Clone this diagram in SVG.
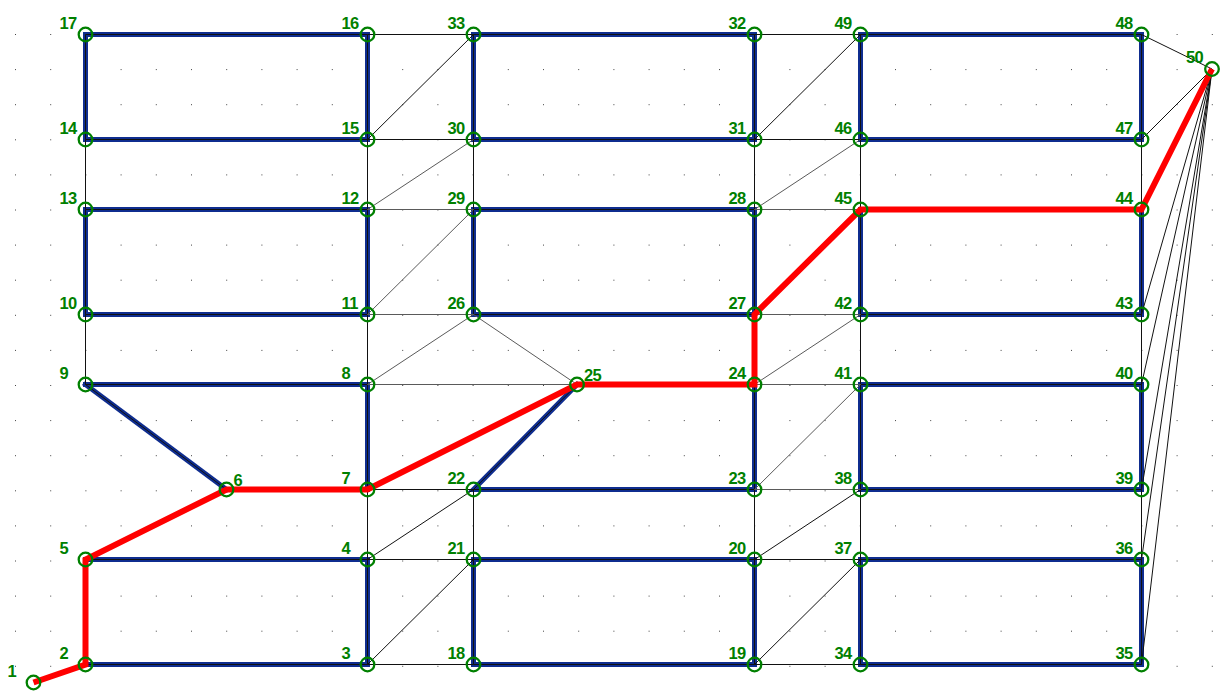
<svg xmlns="http://www.w3.org/2000/svg" width="1225" height="691" viewBox="0 0 1225 691">
<style>
.dots line{stroke:#444;stroke-width:1;stroke-dasharray:1 34.2}
.blue{stroke:#0f2d8f;stroke-width:5;fill:none;stroke-linecap:square}
.thin{stroke:#111;stroke-width:1;fill:none}
.grey{stroke:#5a5a5a;stroke-width:1;fill:none}
.red{stroke:#ff0000;stroke-width:6;fill:none;stroke-linejoin:miter}
.node circle{fill:none;stroke:#008000;stroke-width:2.3}
.node text{fill:#008000;font-family:"Liberation Sans",Arial,sans-serif;font-weight:bold;font-size:16.5px;letter-spacing:-0.6px}
</style>
<rect width="1225" height="691" fill="#fff"/>
<g class="dots">
<line x1="15" y1="34.5" x2="1225" y2="34.5"/>
<line x1="15" y1="69.6" x2="1225" y2="69.6"/>
<line x1="15" y1="104.7" x2="1225" y2="104.7"/>
<line x1="15" y1="139.8" x2="1225" y2="139.8"/>
<line x1="15" y1="174.9" x2="1225" y2="174.9"/>
<line x1="15" y1="210" x2="1225" y2="210"/>
<line x1="15" y1="245.1" x2="1225" y2="245.1"/>
<line x1="15" y1="280.2" x2="1225" y2="280.2"/>
<line x1="15" y1="315.3" x2="1225" y2="315.3"/>
<line x1="15" y1="350.4" x2="1225" y2="350.4"/>
<line x1="15" y1="385.5" x2="1225" y2="385.5"/>
<line x1="15" y1="420.6" x2="1225" y2="420.6"/>
<line x1="15" y1="455.7" x2="1225" y2="455.7"/>
<line x1="15" y1="490.8" x2="1225" y2="490.8"/>
<line x1="15" y1="525.9" x2="1225" y2="525.9"/>
<line x1="15" y1="561" x2="1225" y2="561"/>
<line x1="15" y1="596.1" x2="1225" y2="596.1"/>
<line x1="15" y1="631.2" x2="1225" y2="631.2"/>
<line x1="15" y1="666.3" x2="1225" y2="666.3"/>
</g>
<g id="connectors">
<g class="blue">
<path d="M85.5 34.5H367.5V139.5H85.5Z"/>
<path d="M85.5 209.5H367.5V314.5H85.5Z"/>
<path d="M85.5 384.5H367.5V489.5"/>
<path d="M85.5 384.5L226.5 489.5"/>
<path d="M85.5 559.5H367.5V664.5H85.5"/>
<path d="M473.5 34.5H754.5V139.5H473.5Z"/>
<path d="M473.5 209.5H754.5V314.5H473.5Z"/>
<path d="M577 384.5L473.5 489.5H754.5V384.5"/>
<path d="M473.5 559.5H754.5V664.5H473.5Z"/>
<path d="M860.5 34.5H1141.5V139.5H860.5Z"/>
<path d="M860.5 209.5V314.5H1141.5V209.5"/>
<path d="M860.5 384.5H1141.5V489.5H860.5Z"/>
<path d="M860.5 559.5H1141.5V664.5H860.5Z"/>
</g>
<g class="thin">
<path d="M85.5 34.5H367.5V139.5H85.5Z"/>
<path d="M85.5 209.5H367.5V314.5H85.5Z"/>
<path d="M85.5 384.5H367.5V489.5"/>
<path d="M85.5 384.5L226.5 489.5"/>
<path d="M85.5 559.5H367.5V664.5H85.5"/>
<path d="M473.5 34.5H754.5V139.5H473.5Z"/>
<path d="M473.5 209.5H754.5V314.5H473.5Z"/>
<path d="M577 384.5L473.5 489.5H754.5V384.5"/>
<path d="M473.5 559.5H754.5V664.5H473.5Z"/>
<path d="M860.5 34.5H1141.5V139.5H860.5Z"/>
<path d="M860.5 209.5V314.5H1141.5V209.5"/>
<path d="M860.5 384.5H1141.5V489.5H860.5Z"/>
<path d="M860.5 559.5H1141.5V664.5H860.5Z"/>
<path d="M85.5 139.5V209.5M85.5 314.5V384.5M367.5 139.5V209.5M367.5 314.5V384.5M367.5 489.5V559.5"/>
<path d="M473.5 139.5V209.5M754.5 139.5V209.5M473.5 489.5V559.5M754.5 489.5V559.5"/>
<path d="M860.5 139.5V209.5M860.5 314.5V384.5M860.5 489.5V559.5M1141.5 139.5V209.5M1141.5 314.5V384.5M1141.5 489.5V559.5"/>
<path d="M367.5 34.5H473.5M367.5 139.5H473.5M367.5 489.5H473.5M367.5 559.5H473.5M367.5 664.5H473.5"/>
<path d="M754.5 34.5H860.5M754.5 139.5H860.5M754.5 559.5H860.5M754.5 664.5H860.5"/>
<path d="M367.5 139.5L473.5 34.5M367.5 559.5L473.5 489.5M367.5 664.5L473.5 559.5"/>
<path d="M754.5 139.5L860.5 34.5M754.5 559.5L860.5 489.5M754.5 664.5L860.5 559.5"/>
<path d="M1141.5 34.5L1212 69M1141.5 139.5L1212 69M1141.5 314.5L1212 69M1141.5 384.5L1212 69M1141.5 489.5L1212 69M1141.5 559.5L1212 69M1141.5 664.5L1212 69"/>
</g>
<g class="grey">
<path d="M367.5 209.5H473.5M367.5 314.5H473.5M367.5 384.5H577"/>
<path d="M754.5 209.5H860.5M754.5 314.5H860.5M754.5 384.5H860.5M754.5 489.5H860.5"/>
<path d="M367.5 209.5L473.5 139.5M367.5 314.5L473.5 209.5M367.5 384.5L473.5 314.5L577 384.5"/>
<path d="M754.5 209.5L860.5 139.5M754.5 384.5L860.5 314.5M754.5 489.5L860.5 384.5"/>
</g>
<path class="red" d="M33.5 682.5L85.5 664.5V559.5L226.5 489.5H367.5L577 384.5H754.5V314.5L860.5 209.5H1141.5L1212 69"/>
</g>
<g id="n1" class="node"><circle cx="33.5" cy="682.5" r="6.8"/><text x="7.5" y="676.5">1</text></g>
<g id="n2" class="node"><circle cx="85.5" cy="664.5" r="6.8"/><text x="59.5" y="658.5">2</text></g>
<g id="n3" class="node"><circle cx="367.5" cy="664.5" r="6.8"/><text x="341.5" y="658.5">3</text></g>
<g id="n4" class="node"><circle cx="367.5" cy="559.5" r="6.8"/><text x="341.5" y="553.5">4</text></g>
<g id="n5" class="node"><circle cx="85.5" cy="559.5" r="6.8"/><text x="59.5" y="553.5">5</text></g>
<g id="n6" class="node"><circle cx="226.5" cy="489.5" r="6.8"/><text x="233.5" y="485.5">6</text></g>
<g id="n7" class="node"><circle cx="367.5" cy="489.5" r="6.8"/><text x="341.5" y="483.5">7</text></g>
<g id="n8" class="node"><circle cx="367.5" cy="384.5" r="6.8"/><text x="341.5" y="378.5">8</text></g>
<g id="n9" class="node"><circle cx="85.5" cy="384.5" r="6.8"/><text x="59.5" y="378.5">9</text></g>
<g id="n10" class="node"><circle cx="85.5" cy="314.5" r="6.8"/><text x="59.5" y="308.5">10</text></g>
<g id="n11" class="node"><circle cx="367.5" cy="314.5" r="6.8"/><text x="341.5" y="308.5">11</text></g>
<g id="n12" class="node"><circle cx="367.5" cy="209.5" r="6.8"/><text x="341.5" y="203.5">12</text></g>
<g id="n13" class="node"><circle cx="85.5" cy="209.5" r="6.8"/><text x="59.5" y="203.5">13</text></g>
<g id="n14" class="node"><circle cx="85.5" cy="139.5" r="6.8"/><text x="59.5" y="133.5">14</text></g>
<g id="n15" class="node"><circle cx="367.5" cy="139.5" r="6.8"/><text x="341.5" y="133.5">15</text></g>
<g id="n16" class="node"><circle cx="367.5" cy="34.5" r="6.8"/><text x="341.5" y="28.5">16</text></g>
<g id="n17" class="node"><circle cx="85.5" cy="34.5" r="6.8"/><text x="59.5" y="28.5">17</text></g>
<g id="n18" class="node"><circle cx="473.5" cy="664.5" r="6.8"/><text x="447.5" y="658.5">18</text></g>
<g id="n19" class="node"><circle cx="754.5" cy="664.5" r="6.8"/><text x="728.5" y="658.5">19</text></g>
<g id="n20" class="node"><circle cx="754.5" cy="559.5" r="6.8"/><text x="728.5" y="553.5">20</text></g>
<g id="n21" class="node"><circle cx="473.5" cy="559.5" r="6.8"/><text x="447.5" y="553.5">21</text></g>
<g id="n22" class="node"><circle cx="473.5" cy="489.5" r="6.8"/><text x="447.5" y="483.5">22</text></g>
<g id="n23" class="node"><circle cx="754.5" cy="489.5" r="6.8"/><text x="728.5" y="483.5">23</text></g>
<g id="n24" class="node"><circle cx="754.5" cy="384.5" r="6.8"/><text x="728.5" y="378.5">24</text></g>
<g id="n25" class="node"><circle cx="577" cy="384.5" r="6.8"/><text x="584" y="380.5">25</text></g>
<g id="n26" class="node"><circle cx="473.5" cy="314.5" r="6.8"/><text x="447.5" y="308.5">26</text></g>
<g id="n27" class="node"><circle cx="754.5" cy="314.5" r="6.8"/><text x="728.5" y="308.5">27</text></g>
<g id="n28" class="node"><circle cx="754.5" cy="209.5" r="6.8"/><text x="728.5" y="203.5">28</text></g>
<g id="n29" class="node"><circle cx="473.5" cy="209.5" r="6.8"/><text x="447.5" y="203.5">29</text></g>
<g id="n30" class="node"><circle cx="473.5" cy="139.5" r="6.8"/><text x="447.5" y="133.5">30</text></g>
<g id="n31" class="node"><circle cx="754.5" cy="139.5" r="6.8"/><text x="728.5" y="133.5">31</text></g>
<g id="n32" class="node"><circle cx="754.5" cy="34.5" r="6.8"/><text x="728.5" y="28.5">32</text></g>
<g id="n33" class="node"><circle cx="473.5" cy="34.5" r="6.8"/><text x="447.5" y="28.5">33</text></g>
<g id="n34" class="node"><circle cx="860.5" cy="664.5" r="6.8"/><text x="834.5" y="658.5">34</text></g>
<g id="n35" class="node"><circle cx="1141.5" cy="664.5" r="6.8"/><text x="1115.5" y="658.5">35</text></g>
<g id="n36" class="node"><circle cx="1141.5" cy="559.5" r="6.8"/><text x="1115.5" y="553.5">36</text></g>
<g id="n37" class="node"><circle cx="860.5" cy="559.5" r="6.8"/><text x="834.5" y="553.5">37</text></g>
<g id="n38" class="node"><circle cx="860.5" cy="489.5" r="6.8"/><text x="834.5" y="483.5">38</text></g>
<g id="n39" class="node"><circle cx="1141.5" cy="489.5" r="6.8"/><text x="1115.5" y="483.5">39</text></g>
<g id="n40" class="node"><circle cx="1141.5" cy="384.5" r="6.8"/><text x="1115.5" y="378.5">40</text></g>
<g id="n41" class="node"><circle cx="860.5" cy="384.5" r="6.8"/><text x="834.5" y="378.5">41</text></g>
<g id="n42" class="node"><circle cx="860.5" cy="314.5" r="6.8"/><text x="834.5" y="308.5">42</text></g>
<g id="n43" class="node"><circle cx="1141.5" cy="314.5" r="6.8"/><text x="1115.5" y="308.5">43</text></g>
<g id="n44" class="node"><circle cx="1141.5" cy="209.5" r="6.8"/><text x="1115.5" y="203.5">44</text></g>
<g id="n45" class="node"><circle cx="860.5" cy="209.5" r="6.8"/><text x="834.5" y="203.5">45</text></g>
<g id="n46" class="node"><circle cx="860.5" cy="139.5" r="6.8"/><text x="834.5" y="133.5">46</text></g>
<g id="n47" class="node"><circle cx="1141.5" cy="139.5" r="6.8"/><text x="1115.5" y="133.5">47</text></g>
<g id="n48" class="node"><circle cx="1141.5" cy="34.5" r="6.8"/><text x="1115.5" y="28.5">48</text></g>
<g id="n49" class="node"><circle cx="860.5" cy="34.5" r="6.8"/><text x="834.5" y="28.5">49</text></g>
<g id="n50" class="node"><circle cx="1212" cy="69" r="6.8"/><text x="1186" y="63">50</text></g>
</svg>
